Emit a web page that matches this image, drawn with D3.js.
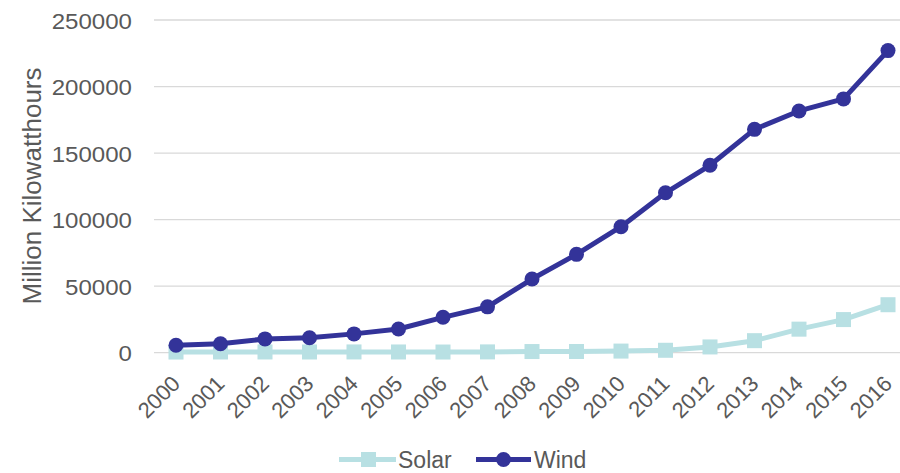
<!DOCTYPE html>
<html>
<head>
<meta charset="utf-8">
<script src="https://cdn.jsdelivr.net/npm/d3@7"></script>
<style>
  html, body { margin: 0; padding: 0; background: #fff; }
  svg { display: block; font-family: "Liberation Sans", Arial, sans-serif; }
</style>
</head>
<body>
<svg id="chart" width="900" height="473"></svg>
<script>
// US electricity generation from solar and wind, 2000–2016
const years = ["2000","2001","2002","2003","2004","2005","2006","2007","2008",
               "2009","2010","2011","2012","2013","2014","2015","2016"];
const solar = [493, 543, 555, 534, 575, 550, 508, 612, 864, 891, 1212, 1818,
               4327, 9036, 17691, 24893, 36054];
const wind = [5593, 6737, 10354, 11187, 14144, 17811, 26589, 34450, 55363,
              73886, 94652, 120177, 140822, 167840, 181655, 190719, 226993];
const yTicks = [0, 50000, 100000, 150000, 200000, 250000];
const yTitle = "Million Kilowatthours";

const font = "'Liberation Sans', Arial, sans-serif";
const textColor = "#595959";
const solarColor = "#b8e0e3", windColor = "#333399";

const svg = d3.select("#chart");
const plotLeft = 154, plotRight = 900;

const x = d3.scalePoint().domain(years).range([176, 888]);
const y = d3.scaleLinear().domain([0, 250000]).range([352.7, 20]);

// horizontal gridlines
svg.append("g").selectAll("line").data(yTicks).join("line")
  .attr("x1", plotLeft).attr("x2", plotRight)
  .attr("y1", d => y(d)).attr("y2", d => y(d))
  .attr("stroke", "#d9d9d9").attr("stroke-width", 1.3);

// y axis labels (slightly wide digits)
const yAxis = svg.append("g").attr("transform", "translate(132,0)")
  .call(d3.axisLeft(y).tickValues(yTicks).tickSize(0).tickPadding(0).tickFormat(d3.format("d")));
yAxis.select(".domain").remove();
yAxis.selectAll("text").attr("fill", textColor).style("font-size", "22.3px")
  .style("font-family", font).attr("x", 0).attr("dy", "0.36em")
  .attr("transform", "scale(1.08,1)");

// y axis title
svg.append("text")
  .attr("transform", "translate(41,186) rotate(-90)")
  .attr("text-anchor", "middle")
  .attr("fill", textColor).style("font-size", "26px")
  .text(yTitle);

// x axis labels, rotated 45 degrees
const xAxis = svg.append("g").attr("transform", "translate(0,366)")
  .call(d3.axisBottom(x).tickSize(0).tickPadding(0));
xAxis.select(".domain").remove();
xAxis.selectAll("text")
  .attr("fill", textColor).style("font-size", "22px")
  .style("font-family", font)
  .attr("text-anchor", "end")
  .attr("y", 0).attr("dy", 0)
  .attr("transform", "translate(5,19) rotate(-45)");

const line = d3.line().x((d, i) => x(years[i])).y(d => y(d));

// Solar series
svg.append("path").datum(solar).attr("d", line)
  .attr("fill", "none").attr("stroke", solarColor).attr("stroke-width", 5)
  .attr("stroke-linejoin", "round");
svg.append("g").selectAll("rect").data(solar).join("rect")
  .attr("x", (d, i) => x(years[i]) - 7.5).attr("y", d => y(d) - 7.5)
  .attr("width", 15).attr("height", 15).attr("fill", solarColor);

// Wind series
svg.append("path").datum(wind).attr("d", line)
  .attr("fill", "none").attr("stroke", windColor).attr("stroke-width", 5)
  .attr("stroke-linejoin", "round");
svg.append("g").selectAll("circle").data(wind).join("circle")
  .attr("cx", (d, i) => x(years[i])).attr("cy", d => y(d))
  .attr("r", 7.5).attr("fill", windColor);

// legend
const legend = svg.append("g");
const ly = 459.5;
legend.append("line").attr("x1", 339).attr("x2", 396).attr("y1", ly).attr("y2", ly)
  .attr("stroke", solarColor).attr("stroke-width", 5);
legend.append("rect").attr("x", 361).attr("y", ly - 7.5).attr("width", 15).attr("height", 15)
  .attr("fill", solarColor);
legend.append("text").attr("x", 398).attr("y", ly).attr("dy", "0.36em")
  .attr("fill", textColor).style("font-size", "23px").text("Solar");
legend.append("line").attr("x1", 476).attr("x2", 531).attr("y1", ly).attr("y2", ly)
  .attr("stroke", windColor).attr("stroke-width", 5);
legend.append("circle").attr("cx", 503.5).attr("cy", ly).attr("r", 7.5).attr("fill", windColor);
legend.append("text").attr("x", 534).attr("y", ly).attr("dy", "0.36em")
  .attr("fill", textColor).style("font-size", "23px").text("Wind");
</script>
</body>
</html>
